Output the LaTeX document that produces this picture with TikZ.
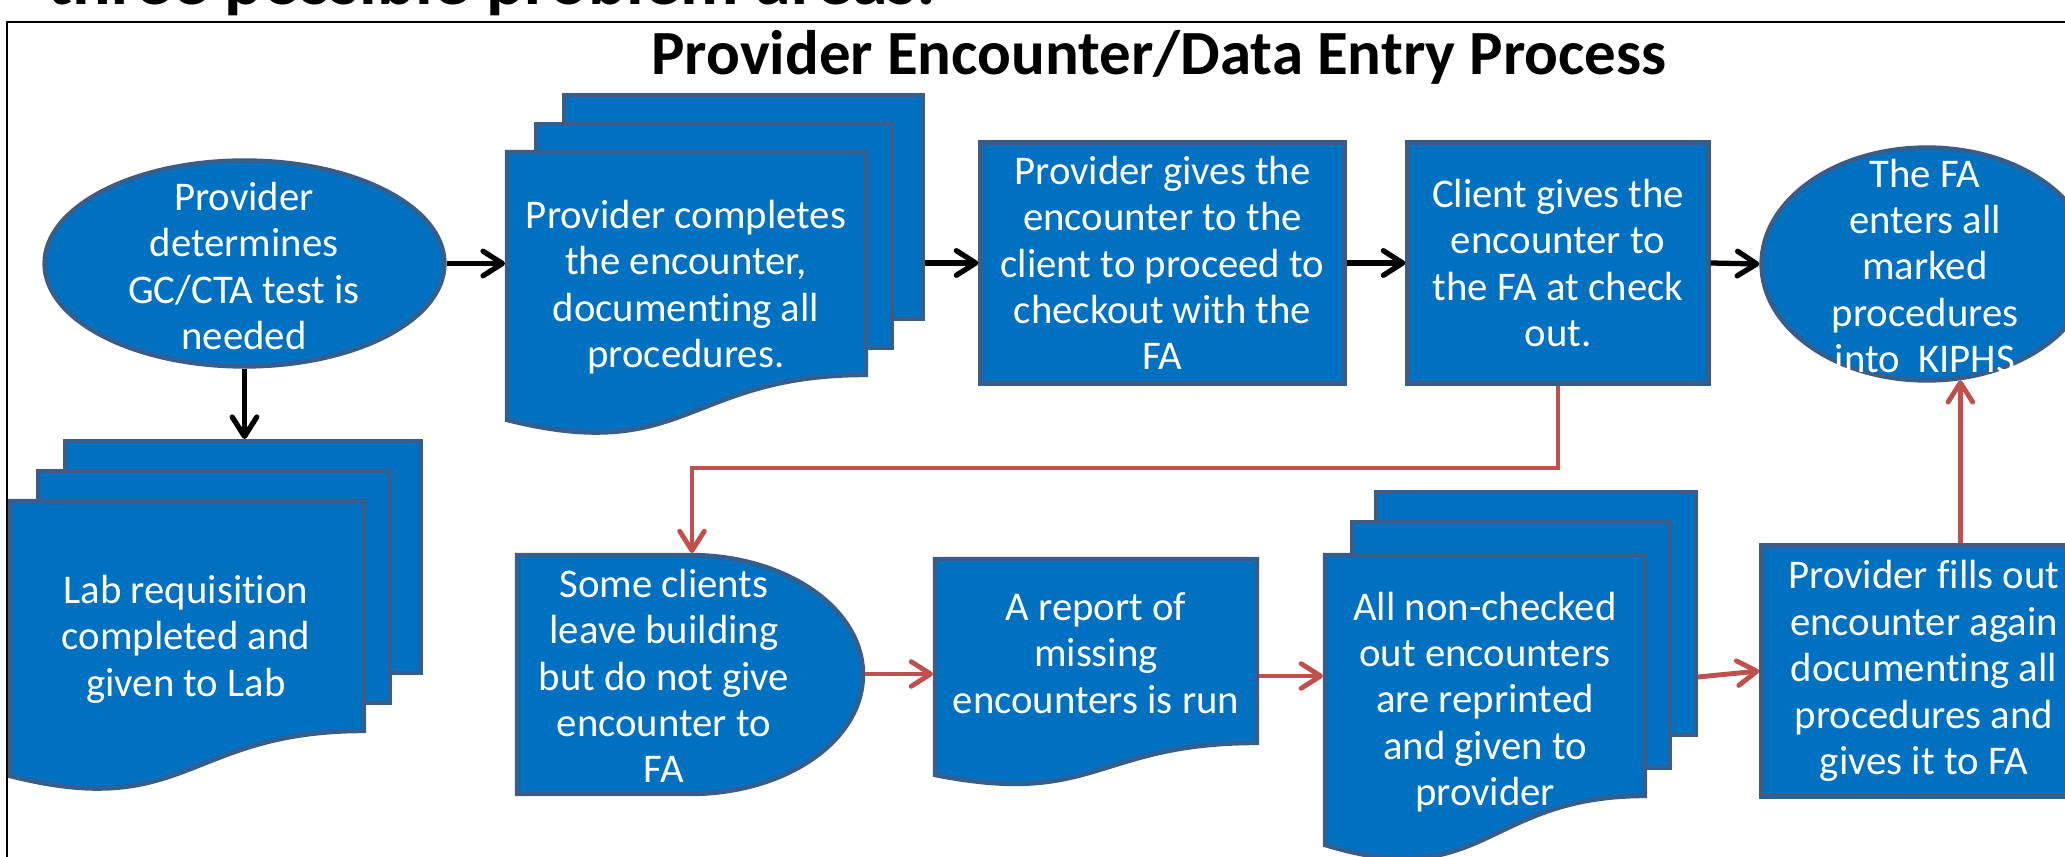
\documentclass[tikz,border=0pt]{standalone}
\usepackage{fontspec}
\setmainfont{Carlito}[Ligatures=NoCommon]
\usetikzlibrary{arrows.meta,shapes.geometric}
\definecolor{boxfill}{HTML}{0070C0}
\definecolor{boxline}{HTML}{385D8A}
\definecolor{flowred}{HTML}{C0504D}

% page of a document symbol with a wavy lower edge:
% left x, top y, right x, lower-right y, lower-left y
\newcommand\wavepage[5]{%
  \path[page] (#1,#2) -- (#3,#2) -- (#3,#4)
    .. controls ({(#1+#3)/2},#4) and ({(#1+#3)/2},{2*#5-#4}) .. (#1,#5) -- cycle;}

\begin{document}
\begin{tikzpicture}[x=0.02cm,y=-0.02cm,
  page/.style={fill=boxfill,draw=boxline,line width=2.5pt,line join=miter},
  procbox/.style={rectangle,fill=boxfill,draw=boxline,line width=2.5pt,inner sep=0pt,
    text=white,align=center,font=\fontsize{23.2}{26.4}\selectfont},
  oval/.style={ellipse,fill=boxfill,draw=boxline,line width=2.5pt,inner sep=0pt},
  txt/.style={text=white,align=center,inner sep=0pt,font=\fontsize{23.2}{26.4}\selectfont},
  blackflow/.style={draw=black,line width=3pt,
    -{Straight Barb[length=11pt,width=14pt,round]}},
  redflow/.style={draw=flowred,line width=2.8pt,
    -{Straight Barb[length=11pt,width=14pt,round]}}]
\clip (0,0) rectangle (2065,857);

% outer frame and headings
\draw[line width=1.5pt] (7,22) rectangle (2140,920);
\node[anchor=base west,inner sep=0pt,font=\bfseries\fontsize{41}{46}\selectfont]
  (heading) at (47,5) {three possible problem areas:};
\node[anchor=base,inner sep=0pt,font=\bfseries\fontsize{35.8}{40}\selectfont]
  (title) at (1159,75) {Provider Encounter/Data Entry Process};

% start: provider decides on the test
\node[oval,minimum width=8.0cm,minimum height=4.12cm] (determine) at (244.5,263.5) {};
\node[txt] (determine-t) at (244,266) {Provider\\determines\\GC/CTA test is\\needed};

% encounter completed (stack of documents)
\path[page] (564,95) rectangle (923,319);
\path[page] (536,124) rectangle (892,348);
\wavepage{507}{152}{866}{375}{420}
\node[txt] (complete) at (686,287) {Provider completes\\the encounter,\\documenting all\\procedures.};
\coordinate (complete-in) at (505,263.5);
\coordinate (complete-out) at (925,263);

\node[procbox,minimum width=7.28cm,minimum height=4.82cm] (handoff) at (1162.5,263)
  {Provider gives the\\encounter to the\\client to proceed to\\checkout with the\\FA};
\node[procbox,minimum width=6.02cm,minimum height=4.82cm] (checkout) at (1558,263)
  {Client gives the\\encounter to\\the FA at check\\out.};

\node[oval,minimum width=6.62cm,minimum height=4.66cm] (enter) at (1927,264) {};
\node[txt] (enter-t) at (1925,266) {The FA\\enters all\\marked\\procedures\\into\ \ KIPHS};

% lab requisition (stack of documents)
\path[page] (65,441) rectangle (421,673);
\path[page] (38,471) rectangle (390,703);
\wavepage{10}{501}{364}{731}{776}
\node[txt] (lab) at (186,639) {Lab requisition\\completed and\\given to Lab};
\coordinate (lab-in) at (243,439);

% clients leaving without checkout (delay symbol)
\path[page] (517,555) -- (690,555)
  .. controls (785.5,555) and (863,608) .. (863,674.5)
  .. controls (863,741) and (785.5,794) .. (690,794) -- (517,794) -- cycle;
\node[txt] (leave) at (664,676) {Some clients\\leave building\\but do not give\\encounter to\\FA};
\coordinate (leave-in) at (692,553);
\coordinate (leave-out) at (865,674);

% report of missing encounters
\wavepage{935}{559}{1257}{743}{775}
\node[txt] (report) at (1096,653) {A report of\\missing\\encounters is run};
\coordinate (report-in) at (933,674);
\coordinate (report-out) at (1259,676);

% reprinted encounters (stack of documents)
\path[page] (1376,492) rectangle (1696,735);
\path[page] (1352,522) rectangle (1670,768);
\wavepage{1325}{555}{1645}{796}{845}
\node[txt] (reprint) at (1485,702) {All non-checked\\out encounters\\are reprinted\\and given to\\provider};
\coordinate (reprint-in) at (1323,676);
\coordinate (reprint-out) at (1698,677);

\node[procbox,minimum width=6.5cm,minimum height=5.02cm] (refill) at (1924,671)
  {Provider fills out\\encounter again\\documenting all\\procedures and\\gives it to FA};

% main flow
\draw[blackflow] (determine.east) -- (complete-in);
\draw[blackflow] (complete-out) -- (handoff.west);
\draw[blackflow] (handoff.east) -- (checkout.west);
\draw[blackflow] (checkout.east) -- (enter.west);
\draw[blackflow] (determine.south) -- (determine.south |- lab-in);

% problem loop
\coordinate (detour) at (0,468);
\draw[redflow,line join=miter] (checkout.south) -- (checkout.south |- detour) -| (leave-in);
\draw[redflow] (leave-out) -- (report-in);
\draw[redflow] (report-out) -- (reprint-in);
\draw[redflow] (reprint-out) -- (refill.west);
\draw[redflow] (refill.north -| enter.-74) -- (enter.-74);
\end{tikzpicture}
\end{document}
